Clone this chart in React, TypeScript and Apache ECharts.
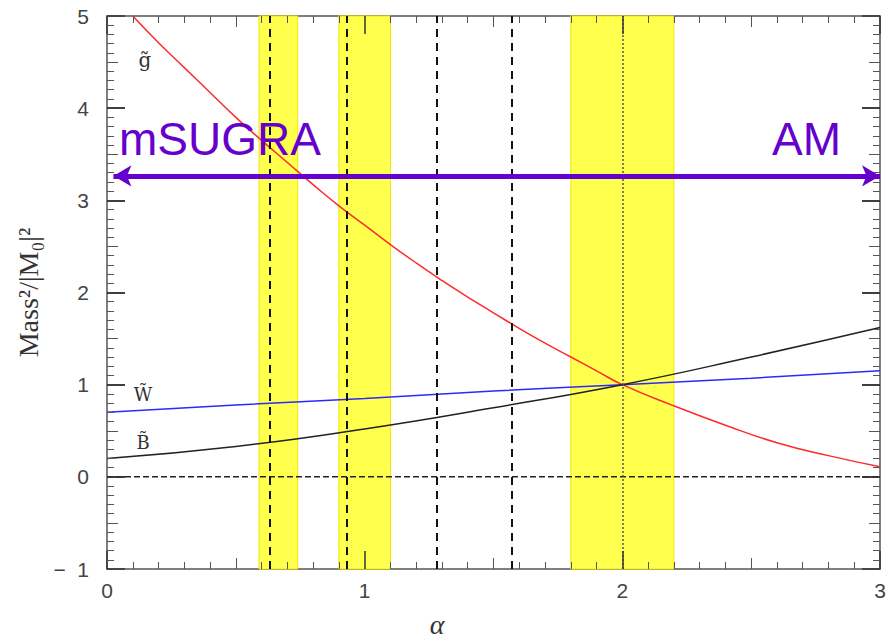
import React, { useEffect, useRef } from 'react';
import * as echarts from 'echarts';

// gluino (red)
const gluinoAlpha = [0.1, 0.2, 0.3, 0.4, 0.5, 0.6, 0.7, 0.8, 0.9, 1.0, 1.1, 1.2, 1.3, 1.4, 1.5, 1.6, 1.7, 1.8, 1.9, 2.0, 2.2, 2.4, 2.6, 2.8, 3.0];
const gluinoMass2 = [5.0, 4.71, 4.44, 4.17, 3.9, 3.65, 3.41, 3.17, 2.94, 2.73, 2.52, 2.32, 2.13, 1.95, 1.78, 1.61, 1.45, 1.3, 1.15, 1.0, 0.77, 0.56, 0.37, 0.23, 0.11];
// wino (blue)
const winoAlpha = [0, 0.5, 1.0, 1.5, 2.0, 2.5, 3.0];
const winoMass2 = [0.7, 0.78, 0.85, 0.93, 1.0, 1.07, 1.15];
// bino (black)
const binoAlpha = [0, 0.5, 1.0, 1.5, 2.0, 2.5, 3.0];
const binoMass2 = [0.2, 0.33, 0.52, 0.75, 1.0, 1.3, 1.62];

// yellow bands [from, to]
const bandFrom = [0.59, 0.9, 1.8];
const bandTo = [0.74, 1.1, 2.2];
// dashed vertical lines
const dashedAlpha = [0.633, 0.926, 1.277, 1.57];
const dottedAlpha = [2.0];
// arrow mSUGRA <-> AM
const arrowY = 3.265;
const arrowFrom = 0.025;
const arrowTo = 3.0;

const xTicks = ['0', '1', '2', '3'];
const X_MIN = 0, X_MAX = 3, Y_MIN = -1, Y_MAX = 5;

const pairs = (xs: number[], ys: number[]) => xs.map((x, i) => [x, ys[i]]);

export default function App() {
  const ref = useRef<HTMLDivElement>(null);
  useEffect(() => {
    const chart = echarts.init(ref.current!, null, { renderer: 'svg' });
    const tickLabel = { fontSize: 21, color: '#444', fontFamily: '"Liberation Sans", Arial, sans-serif' };

    const gridLeft = 107, gridRight = 10, gridTop = 16, gridBottom = 71;
    const pxPerX = (890 - gridLeft - gridRight) / (X_MAX - X_MIN);
    const pxPerY = (640 - gridTop - gridBottom) / (Y_MAX - Y_MIN);
    const tickLen = (i: number) => (i % 10 === 0 ? 18 : i % 5 === 0 ? 11 : 7);
    const tickStyle = (i: number) => ({ color: i % 10 === 0 ? '#333' : '#555', width: i % 10 === 0 ? 1.5 : 1, type: 'solid' });
    const ticks: any[] = [];
    const nx = Math.round((X_MAX - X_MIN) * 10);
    for (let i = 1; i < nx; i++) {
      const x = X_MIN + i / 10;
      const d = tickLen(i) / pxPerY;
      ticks.push([{ coord: [x, Y_MIN], lineStyle: tickStyle(i) }, { coord: [x, Y_MIN + d] }]);
      ticks.push([{ coord: [x, Y_MAX], lineStyle: tickStyle(i) }, { coord: [x, Y_MAX - d] }]);
    }
    const ny = Math.round((Y_MAX - Y_MIN) * 10);
    for (let i = 1; i < ny; i++) {
      const y = Y_MIN + i / 10;
      const d = tickLen(i) / pxPerX;
      ticks.push([{ coord: [X_MIN, y], lineStyle: tickStyle(i) }, { coord: [X_MIN + d, y] }]);
      ticks.push([{ coord: [X_MAX, y], lineStyle: tickStyle(i) }, { coord: [X_MAX - d, y] }]);
    }

    const axisCommon = (min: number, max: number, position: string) => ({
      type: 'value', min, max, interval: 1, position,
      axisLine: { show: true, onZero: false, lineStyle: { color: '#555', width: 1.5 } },
      axisTick: { show: true, inside: true, length: 18, lineStyle: { color: '#333', width: 1.5 } },
      minorTick: { show: true, splitNumber: 10, length: 7, lineStyle: { color: '#555', width: 1 } },
      splitLine: { show: false },
    });
    const option: any = {
      animation: false,
      grid: { left: gridLeft, right: gridRight, top: gridTop, bottom: gridBottom },
      xAxis: [
        {
          ...axisCommon(X_MIN, X_MAX, 'bottom'),
          axisLabel: { ...tickLabel, margin: 11, formatter: (v: number) => xTicks[Math.round(v)] },
        },
        { ...axisCommon(X_MIN, X_MAX, 'top'), axisLabel: { show: false } },
      ],
      yAxis: [
        {
          ...axisCommon(Y_MIN, Y_MAX, 'left'),
          axisLabel: { ...tickLabel, margin: 18, formatter: (v: number) => (v < 0 ? '\u2212  ' + Math.abs(v) : String(v)) },
          name: 'Mass\u00b2/|M\u2080|\u00b2',
          nameLocation: 'middle',
          nameRotate: 90,
          nameGap: 60,
          nameTextStyle: { fontSize: 28, color: '#333', fontFamily: '"Liberation Serif", serif' },
        },
        { ...axisCommon(Y_MIN, Y_MAX, 'right'), axisLabel: { show: false } },
      ],
      series: [
        {
          type: 'line', name: 'zero', data: [[X_MIN, 0], [X_MAX, 0]], symbol: 'none', silent: true,
          lineStyle: { color: '#222', width: 1.5, type: [6, 3] },
          markArea: {
            silent: true,
            itemStyle: { color: '#ffff4d', borderColor: '#f5e600', borderWidth: 1 },
            data: bandFrom.map((f, i) => [{ xAxis: f }, { xAxis: bandTo[i] }]),
          },
          markLine: {
            silent: true, symbol: ['none', 'none'], label: { show: false },
            data: [
              ...dashedAlpha.map((a) => ({ xAxis: a, lineStyle: { color: '#111', width: 2, type: [8, 6] } })),
              ...dottedAlpha.map((a) => ({ xAxis: a, lineStyle: { color: '#555', width: 1.5, type: [2, 2] } })),
            ],
          },
        },
        {
          type: 'line', name: 'gluino', data: pairs(gluinoAlpha, gluinoMass2), smooth: true, symbol: 'none',
          lineStyle: { color: '#ff2a2a', width: 1.5 },
        },
        {
          type: 'line', name: 'wino', data: pairs(winoAlpha, winoMass2), smooth: true, symbol: 'none',
          lineStyle: { color: '#2a2aff', width: 1.5 },
          markLine: {
            silent: true, symbol: ['none', 'none'], label: { show: false },
            data: ticks,
          },
        },
        {
          type: 'line', name: 'bino', data: pairs(binoAlpha, binoMass2), smooth: true, symbol: 'none',
          lineStyle: { color: '#222', width: 1.5 },
          markLine: {
            silent: true, symbol: ['arrow', 'arrow'], symbolSize: [16, 18], label: { show: false },
            lineStyle: { color: '#6600cc', width: 5, type: 'solid' },
            data: [[{ coord: [arrowFrom, arrowY] }, { coord: [arrowTo, arrowY] }]],
          },
        },
      ],
      graphic: [
        { type: 'text', z: 10, style: { text: 'mSUGRA', x: 119, y: 139, fill: '#6600cc', font: '46px "Liberation Sans", Arial, sans-serif', textVerticalAlign: 'middle' } },
        { type: 'text', z: 10, style: { text: 'AM', x: 772, y: 139, fill: '#6600cc', font: '46px "Liberation Sans", Arial, sans-serif', textVerticalAlign: 'middle' } },
        { type: 'text', z: 10, style: { text: '\u03b1', x: 437, y: 624, fill: '#333', font: 'italic 28px "Liberation Serif", serif', textAlign: 'center', textVerticalAlign: 'middle' } },
        { type: 'text', z: 10, style: { text: 'g\u0303', x: 145, y: 60, fill: '#333', font: '20px "DejaVu Serif", serif', textAlign: 'center', textVerticalAlign: 'middle' } },
        { type: 'text', z: 10, style: { text: 'W\u0303', x: 143, y: 394, fill: '#333', font: '18px "DejaVu Serif", serif', textAlign: 'center', textVerticalAlign: 'middle' } },
        { type: 'text', z: 10, style: { text: 'B\u0303', x: 143, y: 442, fill: '#333', font: '18px "DejaVu Serif", serif', textAlign: 'center', textVerticalAlign: 'middle' } },
      ],
    };
    chart.setOption(option);
    return () => chart.dispose();
  }, []);
  return <div ref={ref} style={{ position: 'absolute', left: 0, top: 0, width: 890, height: 640, background: '#fff' }} />;
}
